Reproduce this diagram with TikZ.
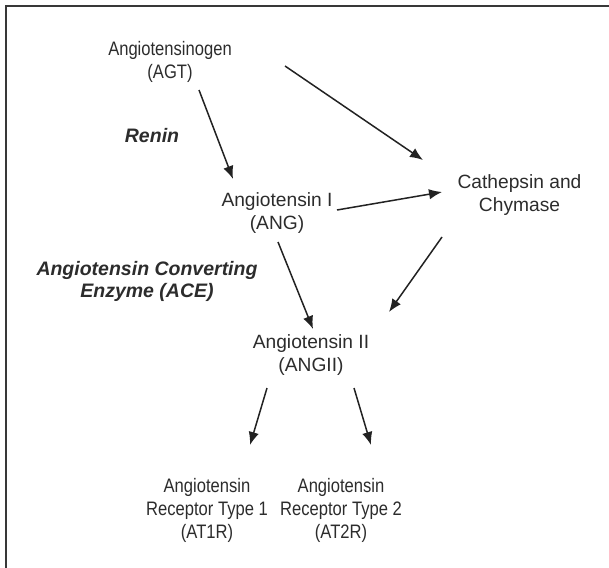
\documentclass[tikz,border=0pt]{standalone}
\usepackage{fontspec}
\usepackage{graphicx}
\setmainfont{Liberation Sans}
\newcommand{\cnd}[1]{\scalebox{0.85}[1]{#1}}
\usetikzlibrary{arrows.meta}
\definecolor{txt}{HTML}{2C2C2C}
\definecolor{ink}{HTML}{222222}
\tikzset{
  lbl/.style={inner sep=0pt, align=center, text=txt,
    font=\fontsize{19.2}{23}\selectfont},
  lblc/.style={inner sep=0pt, align=center, text=txt,
    font=\fontsize{19.5}{22.7}\selectfont},
  enz/.style={inner sep=0pt, align=center, text=txt,
    font=\bfseries\itshape\fontsize{19.5}{22}\selectfont},
  arr/.style={draw=ink, line width=1.5pt, -{Latex[length=13pt,width=10.5pt]}},
  frame/.style={draw=ink!90, line width=2pt}
}
\begin{document}
\begin{tikzpicture}[x=1pt,y=-1pt]
\useasboundingbox (0,0) rectangle (609,567);
\draw[frame] (6,568) -- (6,6.5) -- (610,6.5);

\node[lblc] (agt) at (170,62) {\cnd{Angiotensinogen}\\[1pt]\cnd{(AGT)}};
\node[lbl] (ang) at (277,213.5) {Angiotensin I\\(ANG)};
\node[lbl] (cath) at (519.5,194.6) {Cathepsin and\\Chymase};
\node[lbl] (angii) at (311,355.2) {Angiotensin II\\(ANGII)};
\node[lblc] (at1r) at (207,510.4) {\cnd{Angiotensin}\\\cnd{Receptor Type 1}\\\cnd{(AT1R)}};
\node[lblc] (at2r) at (341,510.4) {\cnd{Angiotensin}\\\cnd{Receptor Type 2}\\\cnd{(AT2R)}};
\node[enz, anchor=base] (renin) at (152,142) {Renin};
\node[enz] (ace) at (147,281) {Angiotensin Converting\\Enzyme (ACE)};

\coordinate (a1s) at (199,90);   \coordinate (a1e) at (233,179);
\coordinate (a2s) at (285,66);   \coordinate (a2e) at (423,160);
\coordinate (a3s) at (337,210);  \coordinate (a3e) at (442,192);
\coordinate (a4s) at (442,237);  \coordinate (a4e) at (389,312);
\coordinate (a5s) at (278,242);  \coordinate (a5e) at (313,329);
\coordinate (a6s) at (267,388);  \coordinate (a6e) at (250,445);
\coordinate (a7s) at (354,388);  \coordinate (a7e) at (371,445);

\draw[arr] (a1s) -- (a1e);
\draw[arr] (a2s) -- (a2e);
\draw[arr] (a3s) -- (a3e);
\draw[arr] (a4s) -- (a4e);
\draw[arr] (a5s) -- (a5e);
\draw[arr] (a6s) -- (a6e);
\draw[arr] (a7s) -- (a7e);
\end{tikzpicture}
\end{document}
